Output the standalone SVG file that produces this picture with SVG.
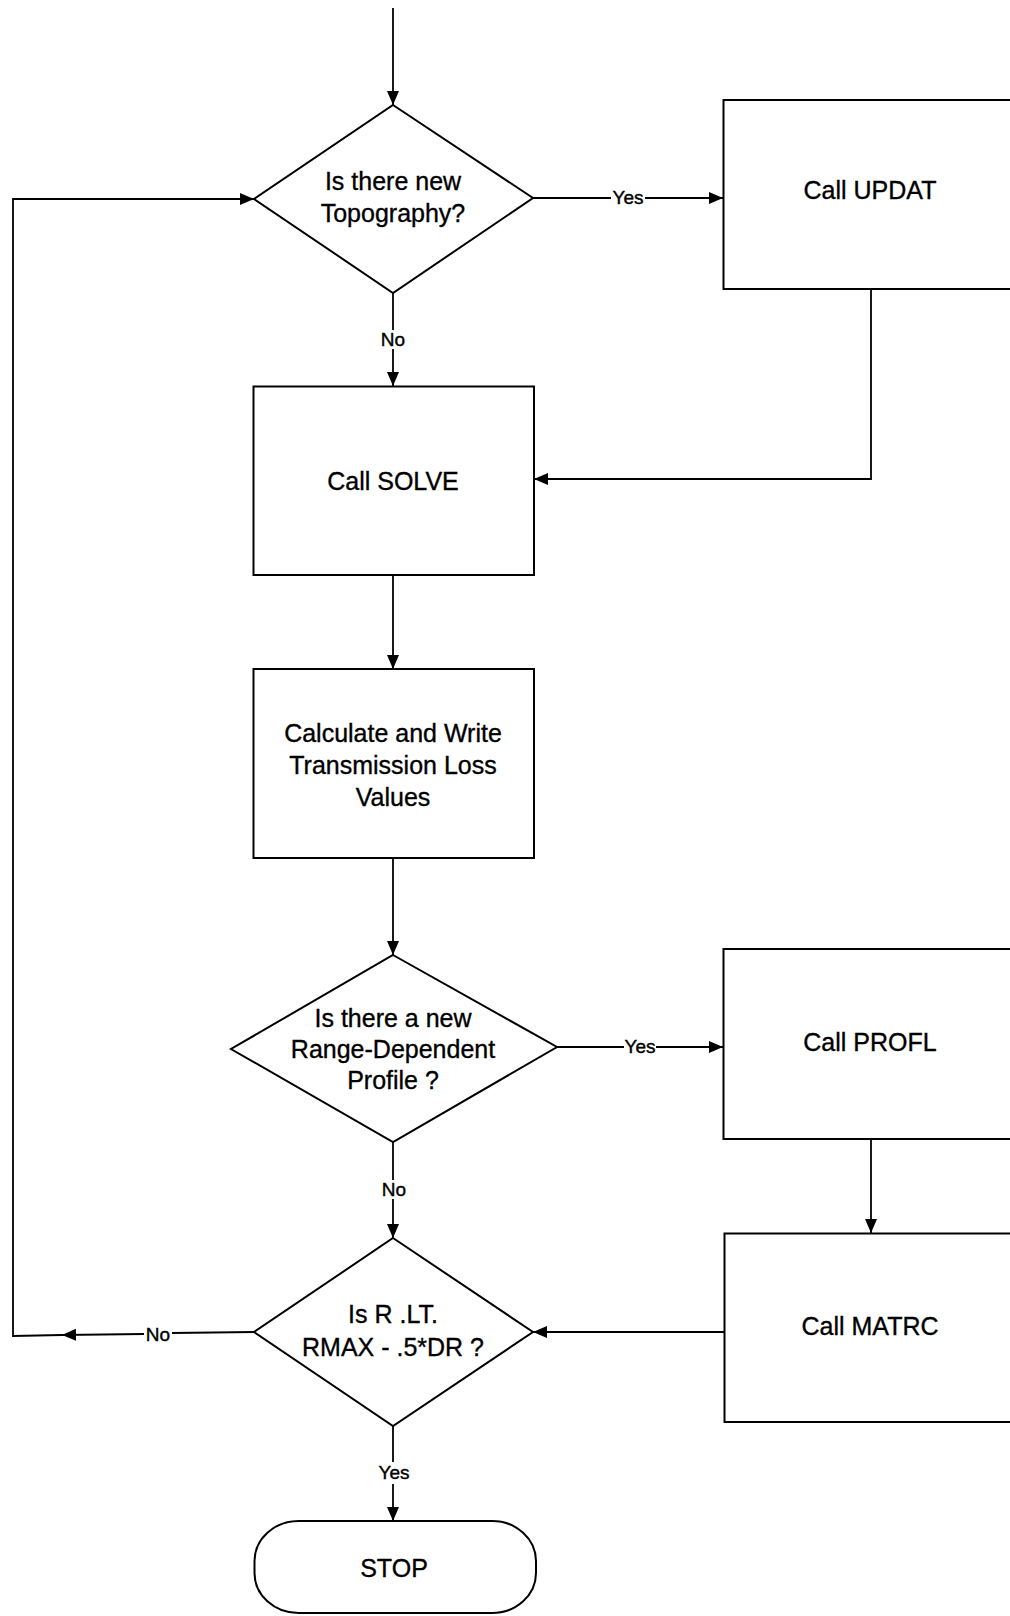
<svg xmlns="http://www.w3.org/2000/svg" width="1010" height="1616" viewBox="0 0 1010 1616">
<style>
  .shape { fill: #ffffff; stroke: #000000; stroke-width: 2; }
  .conn { fill: none; stroke: #000000; stroke-width: 1.8; }
  .txt { font-family: "Liberation Sans", Arial, sans-serif; font-size: 25px; fill: #000000; stroke: #000000; stroke-width: 0.35; text-anchor: middle; }
  .lbl { font-family: "Liberation Sans", Arial, sans-serif; font-size: 19px; fill: #000000; stroke: #000000; stroke-width: 0.4; text-anchor: middle; }
</style>
<defs>
  <marker id="arrow" markerUnits="userSpaceOnUse" markerWidth="16" markerHeight="14" refX="14" refY="6" orient="auto">
    <path d="M0,0 L14,6 L0,12 z" fill="#000000"/>
  </marker>
</defs>
<rect x="0" y="0" width="1010" height="1616" fill="#ffffff"/>

<g id="connectors">
  <path class="conn" d="M393,8 L393,105" marker-end="url(#arrow)"/>
  <path class="conn" d="M533,198 L611,198"/>
  <path class="conn" d="M645,198 L723,198" marker-end="url(#arrow)"/>
  <path class="conn" d="M393,293 L393,330"/>
  <path class="conn" d="M393,349 L393,386" marker-end="url(#arrow)"/>
  <path class="conn" d="M871,289 L871,479 L534,479" marker-end="url(#arrow)"/>
  <path class="conn" d="M393,575 L393,669" marker-end="url(#arrow)"/>
  <path class="conn" d="M393,858 L393,955" marker-end="url(#arrow)"/>
  <path class="conn" d="M557,1047 L624,1047"/>
  <path class="conn" d="M656,1047 L723,1047" marker-end="url(#arrow)"/>
  <path class="conn" d="M393,1142 L393,1180"/>
  <path class="conn" d="M393,1199 L393,1238" marker-end="url(#arrow)"/>
  <path class="conn" d="M871,1139 L871,1233" marker-end="url(#arrow)"/>
  <path class="conn" d="M724,1332 L533,1332" marker-end="url(#arrow)"/>
  <path class="conn" d="M254,1332 L172,1333"/>
  <path class="conn" d="M144,1334 L62,1335" marker-end="url(#arrow)"/>
  <path class="conn" d="M62,1335 L13,1336 L13,199 L254,199" marker-end="url(#arrow)"/>
  <path class="conn" d="M393,1426 L393,1462"/>
  <path class="conn" d="M393,1484 L393,1521" marker-end="url(#arrow)"/>
  <text class="lbl" x="628" y="204">Yes</text>
  <text class="lbl" x="393" y="346">No</text>
  <text class="lbl" x="640" y="1053">Yes</text>
  <text class="lbl" x="394" y="1196">No</text>
  <text class="lbl" x="158" y="1341">No</text>
  <text class="lbl" x="394" y="1479">Yes</text>
</g>

<g id="topography">
  <polygon class="shape" points="393,105 533,198 393,293 254,199"/>
  <text class="txt" x="393" y="190">Is there new</text>
  <text class="txt" x="393" y="222">Topography?</text>
</g>

<g id="updat">
  <rect class="shape" x="723.5" y="100" width="300" height="189"/>
  <text class="txt" x="870" y="199">Call UPDAT</text>
</g>

<g id="solve">
  <rect class="shape" x="253.5" y="386.5" width="280.5" height="188.5"/>
  <text class="txt" x="393" y="490">Call SOLVE</text>
</g>

<g id="calculate">
  <rect class="shape" x="253.5" y="669" width="280.5" height="189"/>
  <text class="txt" x="393" y="742">Calculate and Write</text>
  <text class="txt" x="393" y="774">Transmission Loss</text>
  <text class="txt" x="393" y="806">Values</text>
</g>

<g id="profile-decision">
  <polygon class="shape" points="393,955 557,1047 393,1142 231,1049"/>
  <text class="txt" x="393" y="1027">Is there a new</text>
  <text class="txt" x="393" y="1058">Range-Dependent</text>
  <text class="txt" x="393" y="1089">Profile ?</text>
</g>

<g id="profl">
  <rect class="shape" x="723.5" y="949" width="300" height="190"/>
  <text class="txt" x="870" y="1051">Call PROFL</text>
</g>

<g id="matrc">
  <rect class="shape" x="724.5" y="1233.5" width="300" height="188.5"/>
  <text class="txt" x="870" y="1335">Call MATRC</text>
</g>

<g id="range-decision">
  <polygon class="shape" points="393,1238 533,1332 393,1426 254,1332"/>
  <text class="txt" x="393" y="1323">Is R .LT.</text>
  <text class="txt" x="393" y="1356">RMAX - .5*DR ?</text>
</g>

<g id="stop">
  <rect class="shape" x="254.5" y="1521" width="281.5" height="92" rx="44" ry="40"/>
  <text class="txt" x="394" y="1577">STOP</text>
</g>
</svg>
